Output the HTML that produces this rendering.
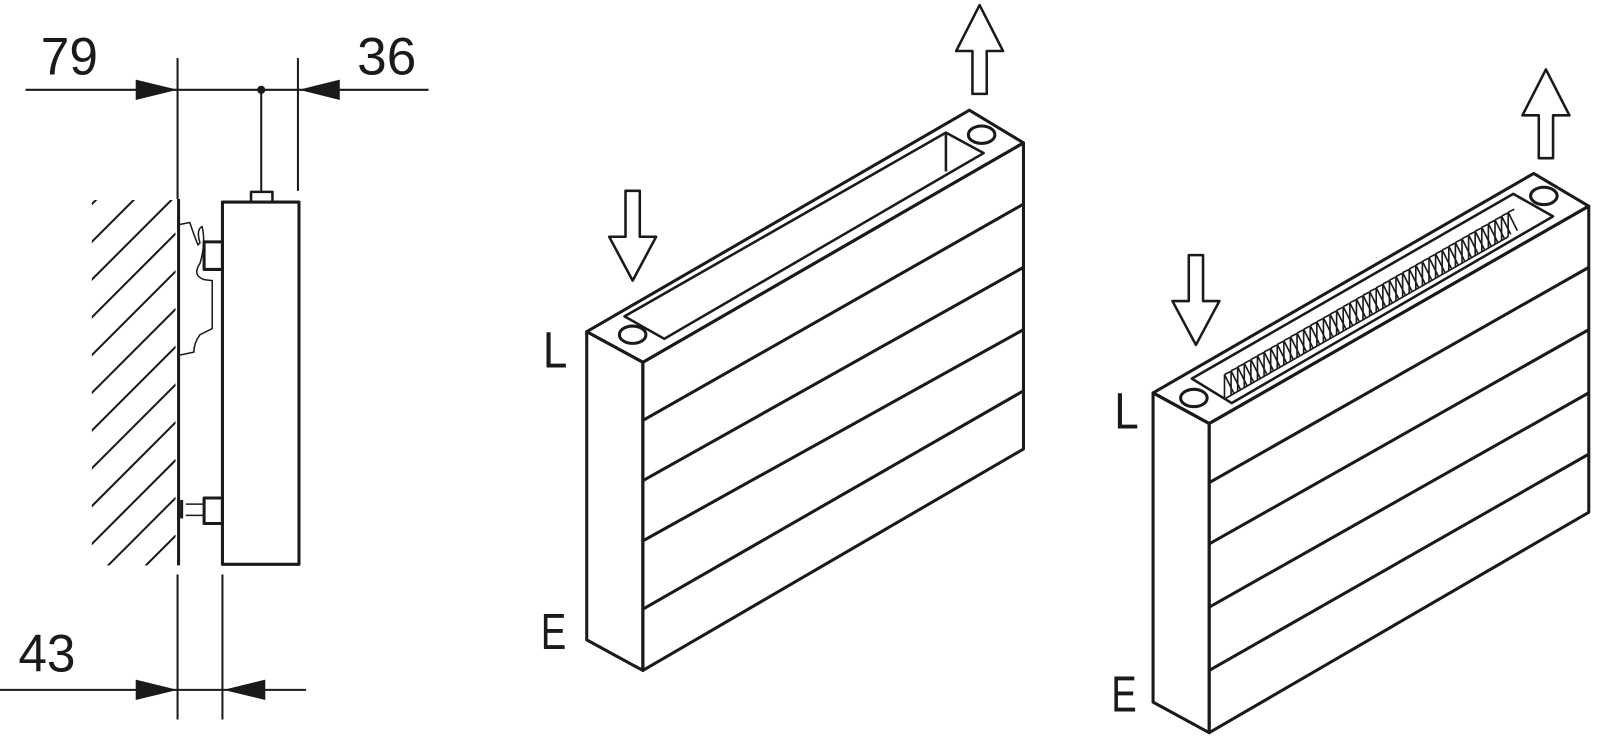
<!DOCTYPE html><html><head><style>html,body{margin:0;background:#fff;width:1600px;height:737px;overflow:hidden}
text{font-family:"Liberation Sans Narrow","Liberation Sans",sans-serif;fill:#1a1a1a}</style></head><body>
<svg id="s" width="1600" height="737" viewBox="0 0 1568 722.2" preserveAspectRatio="none" xmlns="http://www.w3.org/2000/svg" fill="none" stroke="#1a1a1a" stroke-width="3" stroke-linejoin="round">
<defs><clipPath id="w"><rect x="90" y="196" width="82" height="358"/></clipPath></defs>
<g stroke-width="2">
<line x1="25" y1="88" x2="420" y2="88"/><line x1="0" y1="676" x2="300" y2="676"/>
<line x1="174" y1="57" x2="174" y2="195"/><line x1="174" y1="563" x2="174" y2="705"/>
<line x1="218" y1="563" x2="218" y2="705"/>
<line x1="292" y1="57" x2="292" y2="187"/><line x1="256" y1="85" x2="256" y2="187"/>
</g>
<circle cx="256" cy="88" r="4" fill="#1a1a1a" stroke="none"/>
<g fill="#1a1a1a" stroke="none">
<polygon points="133,78 174,88 133,98"/><polygon points="333,78 293,88 333,98"/>
<polygon points="133,666 174,676 133,686"/><polygon points="260,666 219,676 260,686"/>
</g>
<text x="40" y="73" font-size="52" stroke="none" textLength="56" lengthAdjust="spacingAndGlyphs">79</text>
<text x="350" y="73" font-size="52" stroke="none" textLength="58" lengthAdjust="spacingAndGlyphs">36</text>
<text x="18" y="658" font-size="52" stroke="none" textLength="56" lengthAdjust="spacingAndGlyphs">43</text>
<g clip-path="url(#w)" stroke-width="2">
<line x1="20" y1="270" x2="200" y2="90"/><line x1="20" y1="307" x2="200" y2="127"/><line x1="20" y1="344" x2="200" y2="164"/>
<line x1="20" y1="381" x2="200" y2="201"/><line x1="20" y1="418" x2="200" y2="238"/><line x1="20" y1="455" x2="200" y2="275"/>
<line x1="20" y1="492" x2="200" y2="312"/><line x1="20" y1="529" x2="200" y2="349"/><line x1="20" y1="566" x2="200" y2="386"/>
<line x1="20" y1="603" x2="200" y2="423"/><line x1="20" y1="640" x2="200" y2="460"/><line x1="20" y1="677" x2="200" y2="497"/>
<line x1="20" y1="714" x2="200" y2="534"/><line x1="20" y1="751" x2="200" y2="571"/>
</g>
<line x1="175" y1="195" x2="175" y2="554" stroke-width="3"/>
<rect x="218" y="198" width="75" height="355"/>
<rect x="246" y="188" width="21" height="10" stroke-width="2.5"/>
<rect x="200" y="237" width="18" height="27"/>
<rect x="200" y="488" width="18" height="25"/>
<line x1="182" y1="494" x2="200" y2="494" stroke-width="1.5"/><line x1="182" y1="505" x2="200" y2="505" stroke-width="1.5"/>
<line x1="178" y1="490" x2="178" y2="508" stroke-width="3"/>
<path d="M176,220 L186,218 Q190,230 194,240 L196,238 Q192,225 198,222 Q202,238 196,258 Q188,270 200,274 L208,275 L208,322 L196,328 Q190,336 190,345 L176,348" stroke-width="1.5"/>
<polygon points="575,325 950,108 1003,140 630,355"/>
<polygon points="575,325 630,355 630,657 575,627"/>
<polygon points="630,355 1003,140 1003,440 630,657"/>
<line x1="630" y1="412" x2="1003" y2="200"/><line x1="630" y1="471" x2="1003" y2="262"/>
<line x1="630" y1="530" x2="1003" y2="323"/><line x1="630" y1="597" x2="1003" y2="383"/>
<polygon points="612,310 927,130 964,150 651,332" stroke-width="2.5"/>
<line x1="927" y1="130" x2="927" y2="168" stroke-width="2.5"/>
<ellipse cx="620" cy="328" rx="13" ry="8.5"/><ellipse cx="962" cy="132" rx="13" ry="8.5"/>
<polygon points="613,187 627,187 627,232 643,232 620,275 597,232 613,232" stroke-width="2.5"/>
<polygon points="960,5 983,50 967,50 967,92 953,92 953,50 937,50" stroke-width="2.5"/>
<text x="532" y="360" font-size="50" stroke="none" textLength="24" lengthAdjust="spacingAndGlyphs">L</text>
<text x="530" y="636" font-size="50" stroke="none" textLength="25" lengthAdjust="spacingAndGlyphs">E</text>
<polygon points="1130,385 1503,170 1557,202 1185,415"/>
<polygon points="1130,385 1185,415 1185,718 1130,688"/>
<polygon points="1185,415 1557,202 1557,502 1185,718"/>
<line x1="1185" y1="473" x2="1557" y2="262"/><line x1="1185" y1="533" x2="1557" y2="323"/>
<line x1="1185" y1="595" x2="1557" y2="385"/><line x1="1185" y1="657" x2="1557" y2="445"/>
<polygon points="1168,371 1483,190 1522,212 1207,395" stroke-width="2.5"/>
<g id="fins" stroke-width="1.6"></g>
<ellipse cx="1170" cy="390" rx="13" ry="8.5"/><ellipse cx="1513" cy="192" rx="13" ry="8.5"/>
<polygon points="1165,250 1179,250 1179,295 1195,295 1172,338 1149,295 1165,295" stroke-width="2.5"/>
<polygon points="1515,68 1538,113 1522,113 1522,155 1508,155 1508,113 1492,113" stroke-width="2.5"/>
<text x="1092" y="420" font-size="50" stroke="none" textLength="24" lengthAdjust="spacingAndGlyphs">L</text>
<text x="1089" y="697" font-size="50" stroke="none" textLength="25" lengthAdjust="spacingAndGlyphs">E</text>
</svg>
<script>
var g=document.getElementById('fins'),h='';
var ax=1200,ay=391,bx=1478,by=232,n=44;
for(var i=0;i<n;i++){var t=i/(n-1),x=ax+(bx-ax)*t,y=ay+(by-ay)*t;
h+='<line x1="'+x+'" y1="'+y+'" x2="'+x+'" y2="'+(y-24)+'"/>';
h+='<line x1="'+x+'" y1="'+(y-24)+'" x2="'+(x+6)+'" y2="'+(y-27)+'"/>';
h+='<line x1="'+x+'" y1="'+(y-24)+'" x2="'+(x+9)+'" y2="'+(y-6)+'"/>';}
h+='<line x1="'+ax+'" y1="'+ay+'" x2="'+bx+'" y2="'+by+'"/>';
g.innerHTML=h;
</script>
</body></html>
